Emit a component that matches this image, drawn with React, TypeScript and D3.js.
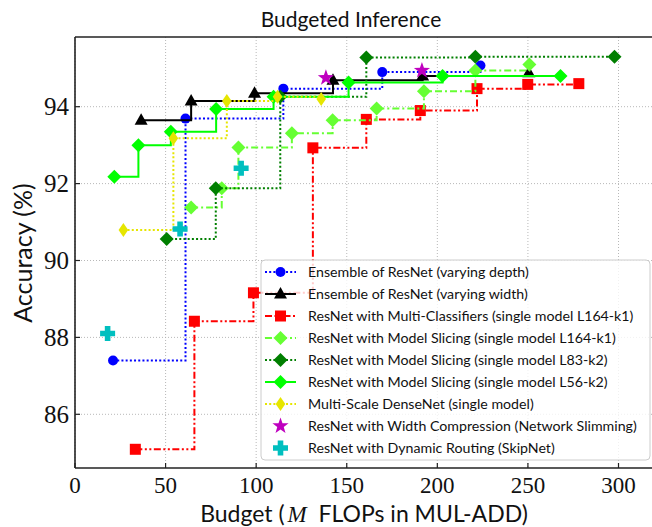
import React from 'react';
import * as d3 from 'd3';

const xTicks = [0, 50, 100, 150, 200, 250, 300];
const yTicks = [86, 88, 90, 92, 94];

const depthX = [21, 61, 115, 169.6, 223.8];
const depthY = [87.4, 93.69, 94.47, 94.9, 95.07];
const widthX = [36.5, 64.1, 99.1, 142.4, 191.9, 250.5];
const widthY = [93.65, 94.15, 94.35, 94.69, 94.8, 94.88];
const mcX = [33.3, 65.9, 98.5, 131.3, 160.8, 190.6, 221.9, 249.9, 278.1];
const mcY = [85.09, 88.42, 89.16, 92.93, 93.67, 93.9, 94.47, 94.58, 94.6];
const s164X = [64.1, 81, 90.2, 119.7, 142.2, 166.5, 192.6, 221, 250.8];
const s164Y = [91.38, 91.88, 92.94, 93.31, 93.65, 93.95, 94.4, 94.94, 95.1];
const s83X = [50.6, 77.7, 113.3, 160.8, 221, 297.8];
const s83Y = [90.56, 91.88, 94.26, 95.28, 95.3, 95.3];
const s56X = [21.7, 35, 52.9, 77.9, 109.6, 151, 202.9, 268];
const s56Y = [92.18, 93.0, 93.35, 93.94, 94.26, 94.63, 94.8, 94.8];
const msdX = [26.7, 54.3, 83.8, 111.8, 135.9];
const msdY = [90.79, 93.18, 94.15, 94.26, 94.2];
const nsX = [138.5, 191.5];
const nsY = [94.75, 94.94];
const skipX = [18, 58, 91.7];
const skipY = [88.1, 90.82, 92.4];

const labels = [
  'Ensemble of ResNet (varying depth)',
  'Ensemble of ResNet (varying width)',
  'ResNet with Multi-Classifiers (single model L164-k1)',
  'ResNet with Model Slicing (single model L164-k1)',
  'ResNet with Model Slicing (single model L83-k2)',
  'ResNet with Model Slicing (single model L56-k2)',
  'Multi-Scale DenseNet (single model)',
  'ResNet with Width Compression (Network Slimming)',
  'ResNet with Dynamic Routing (SkipNet)',
];

type Series = {
  xs: number[]; ys: number[]; color: string; dash: string | null; line: boolean; marker: string;
};

const series: Series[] = [
  { xs: depthX, ys: depthY, color: '#0000ff', dash: '2,2.2', line: true, marker: 'o' },
  { xs: widthX, ys: widthY, color: '#000000', dash: null, line: true, marker: '^' },
  { xs: mcX, ys: mcY, color: '#ff0000', dash: '7,2.5,2,2.5,2,2.5', line: true, marker: 's' },
  { xs: s164X, ys: s164Y, color: '#66ff33', dash: '7,3,2,3', line: true, marker: 'D' },
  { xs: s83X, ys: s83Y, color: '#007f00', dash: '2,2.2', line: true, marker: 'D' },
  { xs: s56X, ys: s56Y, color: '#00ff00', dash: null, line: true, marker: 'D' },
  { xs: msdX, ys: msdY, color: '#e6e600', dash: '2,2.2', line: true, marker: 'd' },
  { xs: nsX, ys: nsY, color: '#bf00bf', dash: null, line: false, marker: '*' },
  { xs: skipX, ys: skipY, color: '#00bfbf', dash: null, line: false, marker: 'P' },
];

function markerEl(m: string, cx: number, cy: number, color: string, key: string) {
  switch (m) {
    case 'o':
      return <circle key={key} cx={cx} cy={cy} r={5} fill={color} />;
    case '^':
      return <path key={key} d={`M${cx},${cy - 7}L${cx + 6.5},${cy + 4.5}L${cx - 6.5},${cy + 4.5}Z`} fill={color} />;
    case 's':
      return <rect key={key} x={cx - 5.5} y={cy - 5.5} width={11} height={11} fill={color} />;
    case 'D':
      return <path key={key} d={`M${cx},${cy - 7}L${cx + 7},${cy}L${cx},${cy + 7}L${cx - 7},${cy}Z`} fill={color} />;
    case 'd':
      return <path key={key} d={`M${cx},${cy - 7}L${cx + 4.8},${cy}L${cx},${cy + 7}L${cx - 4.8},${cy}Z`} fill={color} />;
    case '*': {
      const R = 8.5, r = R * 0.4;
      const pts: string[] = [];
      for (let i = 0; i < 10; i++) {
        const a = -Math.PI / 2 + (i * Math.PI) / 5;
        const rr = i % 2 === 0 ? R : r;
        pts.push(`${cx + rr * Math.cos(a)},${cy + rr * Math.sin(a)}`);
      }
      return <path key={key} d={`M${pts.join('L')}Z`} fill={color} />;
    }
    case 'P': {
      const a = 2.8, b = 7.5;
      const d = `M${cx - a},${cy - b}H${cx + a}V${cy - a}H${cx + b}V${cy + a}H${cx + a}V${cy + b}H${cx - a}V${cy + a}H${cx - b}V${cy - a}H${cx - a}Z`;
      return <path key={key} d={d} fill={color} />;
    }
  }
  return null;
}

export default function App() {
  const x = d3.scaleLinear().domain([0, 300]).range([75, 618.5]);
  const y = d3.scaleLinear().domain([86, 94]).range([414.3, 106.7]);
  const top = 37, bottom = 468, left = 75, right = 700;
  const line = d3.line<[number, number]>().x(d => x(d[0])).y(d => y(d[1])).curve(d3.curveStepAfter);

  const legY0 = 272, legStep = 22;
  const sans = "Lato, 'DejaVu Sans', sans-serif";

  return (
    <div style={{ position: 'absolute', left: 0, top: 0 }}>
      <svg width={652} height={527} style={{ display: 'block', background: '#fff' }}>
        {/* grid */}
        {xTicks.map(t => (
          <line key={'gx' + t} x1={x(t)} x2={x(t)} y1={top} y2={bottom} stroke="#b0b0b0" strokeWidth={0.9} strokeDasharray="1,2" />
        ))}
        {yTicks.map(t => (
          <line key={'gy' + t} x1={left} x2={right} y1={y(t)} y2={y(t)} stroke="#b0b0b0" strokeWidth={0.9} strokeDasharray="1,2" />
        ))}
        {/* series */}
        {series.map((s, i) => {
          const pts = s.xs.map((v, j) => [v, s.ys[j]] as [number, number]);
          return (
            <g key={'s' + i}>
              {s.line && (
                <path d={line(pts) || ''} fill="none" stroke={s.color} strokeWidth={2}
                  strokeDasharray={s.dash || undefined} />
              )}
              {pts.map((p, j) => markerEl(s.marker, x(p[0]), y(p[1]), s.color, 'm' + i + '-' + j))}
            </g>
          );
        })}
        {/* spines */}
        <line x1={left} x2={right} y1={top} y2={top} stroke="#222" strokeWidth={1.6} />
        <line x1={left} x2={right} y1={bottom} y2={bottom} stroke="#222" strokeWidth={1.6} />
        <line x1={left} x2={left} y1={top} y2={bottom} stroke="#222" strokeWidth={1.6} />
        {/* ticks */}
        {xTicks.map(t => (
          <g key={'tx' + t}>
            <line x1={x(t)} x2={x(t)} y1={bottom} y2={bottom - 5} stroke="#222" strokeWidth={1.2} />
            <text x={x(t)} y={493} textAnchor="middle" fontFamily="'Liberation Serif', serif" fontSize={23} fill="#111">{t}</text>
          </g>
        ))}
        {yTicks.map(t => (
          <g key={'ty' + t}>
            <line x1={left} x2={left + 5} y1={y(t)} y2={y(t)} stroke="#222" strokeWidth={1.2} />
            <text x={69} y={y(t) + 8.5} textAnchor="end" fontFamily="'Liberation Serif', serif" fontSize={25} fill="#111">{t}</text>
          </g>
        ))}
        {/* title & labels */}
        <text x={351} y={27} textAnchor="middle" fontFamily={sans} fontSize={21} fill="#111">Budgeted Inference</text>
        <text x={364} y={522} textAnchor="middle" fontFamily={sans} fontSize={23} fill="#111">
          {'Budget ('}<tspan dx={3} fontFamily="'Liberation Serif', serif" fontStyle="italic">M</tspan><tspan>{'\u00a0 FLOPs in MUL-ADD)'}</tspan>
        </text>
        <text transform={`translate(32,253) rotate(-90)`} textAnchor="middle" fontFamily={sans} fontSize={25} fill="#111">Accuracy (%)</text>
        {/* legend */}
        <rect x={261} y={260} width={389} height={200} rx={4} fill="#fff" fillOpacity={0.8} stroke="#cccccc" strokeWidth={1} />
        {series.map((s, i) => {
          const ly = legY0 + i * legStep;
          return (
            <g key={'l' + i}>
              {s.line && (
                <line x1={265} x2={296} y1={ly} y2={ly} stroke={s.color} strokeWidth={2} strokeDasharray={s.dash || undefined} />
              )}
              {markerEl(s.marker, 280.5, ly, s.color, 'lm' + i)}
              <text x={308} y={ly + 5} fontFamily={sans} fontSize={14.2} fill="#111">{labels[i]}</text>
            </g>
          );
        })}
      </svg>
    </div>
  );
}
